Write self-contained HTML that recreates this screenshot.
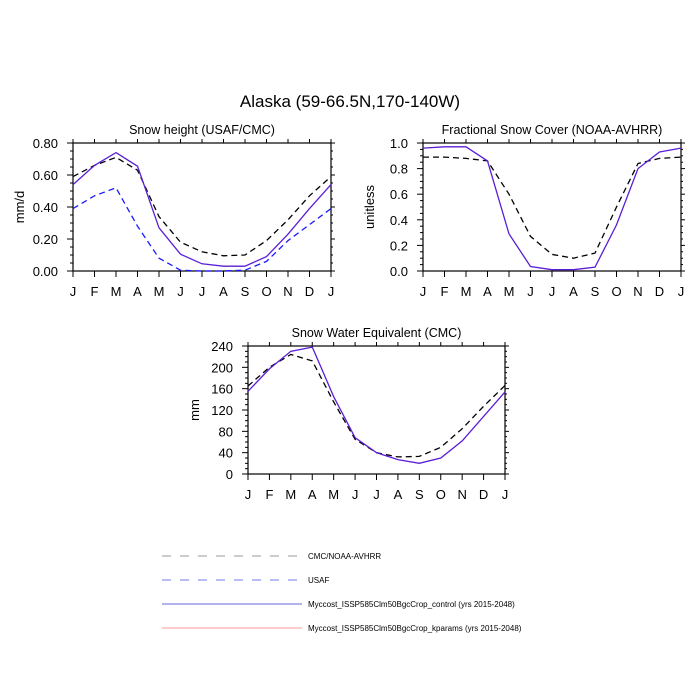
<!DOCTYPE html>
<html><head><meta charset="utf-8"><style>
html,body{margin:0;padding:0;background:#fff}
svg{display:block;font-family:"Liberation Sans",Arial,sans-serif}
</style></head><body>
<svg id="s" width="700" height="700" xmlns="http://www.w3.org/2000/svg">
<text x="350" y="107" font-size="17" text-anchor="middle">Alaska (59-66.5N,170-140W)</text>
</svg>
<script>
const s=document.getElementById('s');let h='';
const M=['J','F','M','A','M','J','J','A','S','O','N','D','J'];
function panel(L,R,T,B,ymax,major,minorN,labs,ylab,title,series){
 const X=i=>L+(R-L)*i/12, Y=v=>B-(B-T)*v/ymax;
 h+=`<text x="${(L+R)/2}" y="${T-9}" font-size="12.5" text-anchor="middle">${title}</text>`;
 h+=`<rect x="${L}" y="${T}" width="${R-L}" height="${B-T}" fill="none" stroke="#000" stroke-width="1.2"/>`;
 for(let i=0;i<=12;i++){const x=X(i);h+=`<line x1="${x}" y1="${B}" x2="${x}" y2="${B+6}" stroke="#000"/><line x1="${x}" y1="${T}" x2="${x}" y2="${T-4}" stroke="#000"/>`;
  h+=`<text x="${x}" y="${B+25}" font-size="13" text-anchor="middle">${M[i]}</text>`;}
 const nM=labs.length-1;
 for(let j=0;j<=nM*minorN;j++){const y=B-(B-T)*j/(nM*minorN);const mj=j%minorN==0;
  h+=`<line x1="${L}" y1="${y}" x2="${L-(mj?6:3)}" y2="${y}" stroke="#000"/><line x1="${R}" y1="${y}" x2="${R+(mj?4:2)}" y2="${y}" stroke="#000"/>`;}
 labs.forEach((t,j)=>{const y=B-(B-T)*j/nM;h+=`<text x="${L-15}" y="${y+5}" font-size="13" text-anchor="end">${t}</text>`;});
 h+=`<text transform="translate(${L-49},${(T+B)/2}) rotate(-90)" font-size="13" text-anchor="middle">${ylab}</text>`;
 series.forEach(([d,c,dash])=>{h+=`<polyline fill="none" stroke="${c}" stroke-width="1.3" ${dash?'stroke-dasharray="6,4"':''} points="${d.map((v,i)=>X(i).toFixed(1)+','+Y(v).toFixed(1)).join(' ')}"/>`;});
}
const P='#5a1ed6';
panel(73,331,143,271,0.8,0.2,4,['0.00','0.20','0.40','0.60','0.80'],'mm/d','Snow height (USAF/CMC)',[
 [[.59,.66,.71,.63,.34,.18,.12,.095,.10,.19,.32,.47,.59],'#000',1],
 [[.39,.47,.52,.28,.08,.005,0,0,.005,.06,.19,.29,.39],'#1a1aff',1],
 [[.54,.66,.74,.655,.27,.105,.045,.03,.03,.09,.23,.39,.54],P,0]]);
panel(423,681,143,271,1,0.2,4,['0.0','0.2','0.4','0.6','0.8','1.0'],'unitless','Fractional Snow Cover (NOAA-AVHRR)',[
 [[.89,.89,.88,.86,.60,.27,.13,.10,.14,.50,.84,.88,.89],'#000',1],
 [[.96,.97,.97,.86,.29,.035,.01,.01,.03,.36,.80,.93,.96],P,0]]);
panel(248,505,346,474,240,40,4,['0','40','80','120','160','200','240'],'mm','Snow Water Equivalent (CMC)',[
 [[165,200,224,212,135,65,40,32,33,50,85,127,166],'#000',1],
 [[155,197,230,238,145,68,40,27,20,30,62,108,154],P,0]]);
const leg=[['CMC/NOAA-AVHRR','#999',1],['USAF','#7777ee',1],['Myccost_ISSP585Clm50BgcCrop_control (yrs 2015-2048)','#6666dd',0],['Myccost_ISSP585Clm50BgcCrop_kparams (yrs 2015-2048)','#ff9999',0]];
leg.forEach(([t,c,d],i)=>{const y=556+i*24;h+=`<line x1="162" y1="${y}" x2="302" y2="${y}" stroke="${c}" stroke-width="1" ${d?'stroke-dasharray="9,9"':''}/><text x="308" y="${y+3}" font-size="8">${t}</text>`;});
s.insertAdjacentHTML('beforeend',h);
</script>
</body></html>
